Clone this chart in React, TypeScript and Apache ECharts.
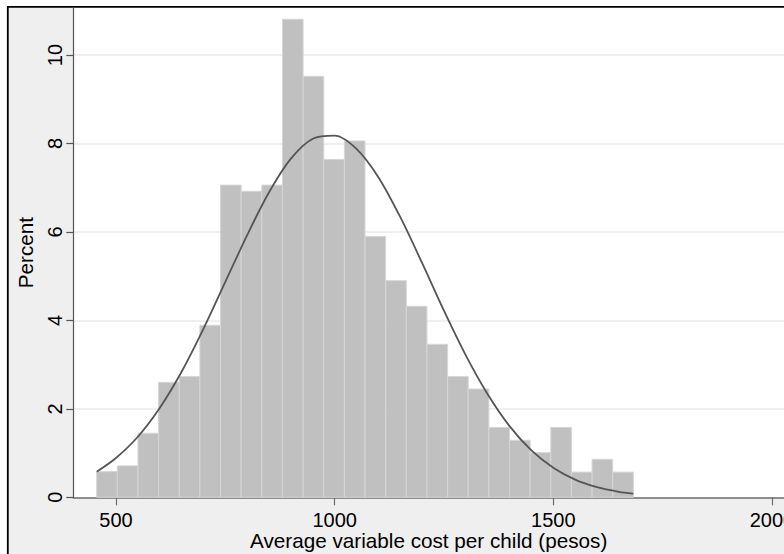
import React, { useEffect, useRef } from "react";
import * as echarts from "echarts";

// Histogram: bin edges start and width (pesos), heights in percent
const binStart = 455.9;
const binWidth = 47.2;
const binPercents = [
  0.58, 0.71, 1.45, 2.6, 2.73, 3.89, 7.06, 6.92, 7.06, 10.81, 9.52, 7.64, 8.06,
  5.9, 4.9, 4.32, 3.46, 2.73, 2.45, 1.58, 1.29, 1.01, 1.58, 0.57, 0.86, 0.57,
];

// Normal density overlay (x in pesos, y in percent)
const curveX = [
  456, 500, 550, 600, 650, 700, 750, 800, 850, 900, 950, 1000, 1050, 1100, 1150,
  1200, 1250, 1300, 1350, 1400, 1450, 1500, 1550, 1600, 1650, 1683,
];
const curveY = [
  0.58, 0.89, 1.37, 2.02, 2.84, 3.81, 4.87, 5.93, 6.9, 7.66, 8.11, 8.18, 7.88,
  7.24, 6.34, 5.3, 4.22, 3.21, 2.33, 1.61, 1.06, 0.67, 0.4, 0.23, 0.125, 0.082,
];

const xTicks = [500, 1000, 1500, 2000];
const yTicks = [0, 2, 4, 6, 8, 10];

const xTitle = "Average variable cost per child (pesos)";
const yTitle = "Percent";

const FONT = "Liberation Sans, Arial, sans-serif";

export default function App() {
  const ref = useRef<HTMLDivElement>(null);

  useEffect(() => {
    if (!ref.current) return;
    const chart = echarts.init(ref.current, undefined, { renderer: "svg" });

    const bins = binPercents.map((h, i) => [
      binStart + i * binWidth,
      binStart + (i + 1) * binWidth,
      h,
    ]);
    const curve = curveX.map((x, i) => [x, curveY[i]]);

    chart.setOption({
      animation: false,
      backgroundColor: "#efefef",
      textStyle: { fontFamily: FONT },
      graphic: [
        { type: "rect", shape: { x: 0, y: 0, width: 784, height: 6.5 }, style: { fill: "#ffffff" }, silent: true },
        { type: "rect", shape: { x: 0, y: 0, width: 7.5, height: 554 }, style: { fill: "#ffffff" }, silent: true },
        { type: "line", shape: { x1: 7.5, y1: 6.8, x2: 784, y2: 6.8 }, style: { stroke: "#000", lineWidth: 1.8 }, silent: true },
        { type: "line", shape: { x1: 7.8, y1: 6, x2: 7.8, y2: 554 }, style: { stroke: "#000", lineWidth: 1.8 }, silent: true },
      ],
      grid: {
        left: 73.3,
        top: 7.8,
        right: 0,
        bottom: 56.7,
        containLabel: false,
        outerBoundsMode: "none",
        show: true,
        backgroundColor: "#ffffff",
        borderWidth: 0,
      },
      xAxis: {
        type: "value",
        min: 402.4,
        max: 2027.6,
        name: xTitle,
        nameLocation: "middle",
        nameGap: 33,
        nameMoveOverlap: false,
        nameTextStyle: { fontSize: 20.7, color: "#000", fontFamily: FONT },
        axisLine: { show: true, lineStyle: { color: "#6e6e6e", width: 1.6 } },
        axisTick: { show: true, length: 8, customValues: xTicks, lineStyle: { color: "#6e6e6e", width: 1.2 } },
        axisLabel: {
          customValues: xTicks,
          fontSize: 20,
          color: "#000",
          margin: 13,
          fontFamily: FONT,
          formatter: (v: number) => String(v),
        },
        splitLine: { show: false },
      },
      yAxis: {
        type: "value",
        min: 0,
        max: 11.07,
        name: yTitle,
        nameLocation: "middle",
        nameGap: 37,
        nameRotate: 90,
        nameMoveOverlap: false,
        nameTextStyle: { fontSize: 20.7, color: "#000", fontFamily: FONT },
        axisLine: { show: true, lineStyle: { color: "#555", width: 1.2 } },
        axisTick: { show: true, length: 7, customValues: yTicks, lineStyle: { color: "#555", width: 1.2 } },
        axisLabel: {
          customValues: yTicks,
          rotate: 90,
          fontSize: 20,
          color: "#000",
          margin: 8,
          fontFamily: FONT,
          formatter: (v: number) => String(v),
        },
        splitLine: { show: true, lineStyle: { color: "#eaeaea", width: 1.5 } },
      },
      series: [
        {
          type: "custom",
          data: bins,
          encode: { x: [0, 1], y: 2 },
          renderItem: (params: any, api: any) => {
            const p0 = api.coord([api.value(0), api.value(2)]);
            const p1 = api.coord([api.value(1), 0]);
            return {
              type: "rect",
              shape: { x: p0[0], y: p0[1], width: p1[0] - p0[0], height: p1[1] - p0[1] },
              style: { fill: "#c0c0c0", stroke: "#d6d6d6", lineWidth: 1 },
            };
          },
          z: 2,
        },
        {
          type: "line",
          data: curve,
          smooth: 0.3,
          symbol: "none",
          lineStyle: { color: "#555555", width: 1.8 },
          z: 3,
        },
      ],
    });

    return () => chart.dispose();
  }, []);

  return (
    <div
      ref={ref}
      style={{ position: "fixed", left: 0, top: 0, width: 784, height: 554 }}
    />
  );
}
